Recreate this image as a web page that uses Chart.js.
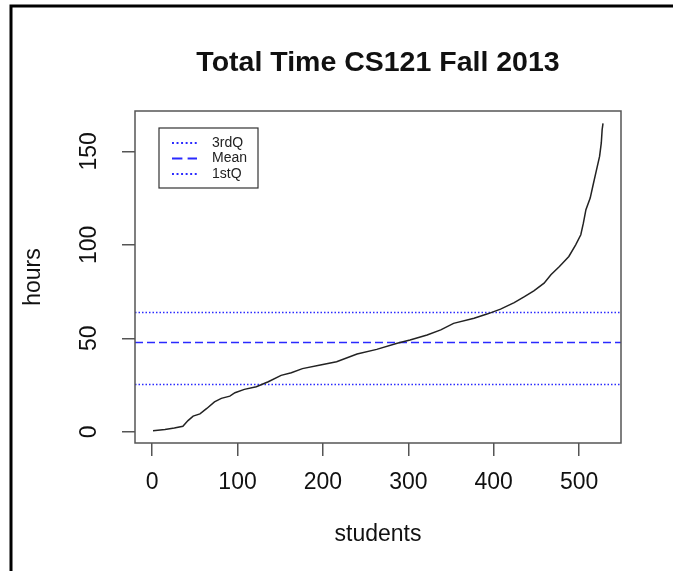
<!DOCTYPE html>
<html>
<head>
<meta charset="utf-8">
<script src="https://cdn.jsdelivr.net/npm/chart.js@4"></script>
<style>
  html, body { margin: 0; padding: 0; background: #fff; }
</style>
</head>
<body>
<canvas id="chart-1" width="673" height="571"></canvas>
<script>
const ctx1 = document.getElementById('chart-1');

// students sorted by total hours
var students = [1, 15, 26, 36, 42, 48, 56, 64, 73, 81, 91, 97, 108, 122, 136, 151, 163, 176,
    197, 216, 240, 263, 287, 302, 322, 338, 353, 377, 393, 408, 424, 436, 447, 459, 467,
    477, 488, 496, 502, 505, 508, 513, 516, 520, 524, 526, 527, 528];
var hours = [0.6, 1.2, 2, 3, 6, 8.4, 9.6, 12.5, 16, 17.9, 19.1, 20.9, 22.7, 24.1, 26.8, 30.2, 31.6, 33.8,
    35.7, 37.5, 41.6, 44.1, 47.4, 49.1, 51.8, 54.5, 58, 60.7, 63.1, 65.6, 69.1, 72.3, 75.4, 79.5, 84,
    88.4, 93.8, 100, 105.4, 111.6, 118.8, 125, 131.2, 139.3, 147.3, 154.5, 161.6, 165];

var refLabels = ['3rdQ', 'Mean', '1stQ'];
var refValues = [64.1, 47.9, 25.7];
var refDashes = [[1.5, 2], [8, 4], [1.5, 2]];

var xTicks = [0, 100, 200, 300, 400, 500];
var yTicks = [0, 50, 100, 150];

// R style axis range: data range plus 4% each side
var xLo = Math.min(...students), xHi = Math.max(...students);
var yLo = Math.min(...hours), yHi = Math.max(...hours);
var xPad = (xHi - xLo) * 0.04, yPad = (yHi - yLo) * 0.04;

var font = 'Liberation Sans, Arial, sans-serif';
var lineBlue = '#2a2aff';

const decor = {
    id: 'decor',
    beforeDraw(chart) {
        const c = chart.ctx;
        c.save();
        c.fillStyle = '#fff';
        c.fillRect(0, 0, chart.width, chart.height);
        // outer picture frame
        c.strokeStyle = '#000';
        c.lineWidth = 3;
        c.beginPath();
        c.moveTo(11, chart.height);
        c.lineTo(11, 6);
        c.lineTo(chart.width, 6);
        c.stroke();
        c.restore();
    },
    beforeDatasetsDraw(chart) {
        const c = chart.ctx, a = chart.chartArea, y = chart.scales.y;
        c.save();
        c.beginPath();
        c.rect(a.left, a.top, a.right - a.left, a.bottom - a.top);
        c.clip();
        c.strokeStyle = lineBlue;
        c.lineWidth = 1.5;
        refValues.forEach((v, i) => {
            const py = Math.round(y.getPixelForValue(v)) + 0.5;
            c.setLineDash(refDashes[i]);
            c.beginPath();
            c.moveTo(a.left, py);
            c.lineTo(a.right, py);
            c.stroke();
        });
        c.restore();
    },
    afterDraw(chart) {
        const c = chart.ctx, a = chart.chartArea;
        c.save();
        // plot box
        c.strokeStyle = '#555';
        c.lineWidth = 1.5;
        c.strokeRect(a.left, a.top, a.right - a.left, a.bottom - a.top);

        // main title
        c.fillStyle = '#111';
        c.font = 'bold 28.5px ' + font;
        c.textAlign = 'center';
        c.textBaseline = 'alphabetic';
        c.fillText('Total Time CS121 Fall 2013', (a.left + a.right) / 2, 71);

        // legend
        const lx = a.left + 24, ly = a.top + 17, lw = 99, lh = 60;
        c.strokeStyle = '#333';
        c.lineWidth = 1.2;
        c.strokeRect(lx, ly, lw, lh);
        c.font = '14px ' + font;
        c.textAlign = 'left';
        c.textBaseline = 'middle';
        refLabels.forEach((t, i) => {
            const ry = ly + 15 + i * 15.5;
            c.strokeStyle = lineBlue;
            c.lineWidth = 2;
            c.setLineDash(refDashes[i].map(d => d * 1.3));
            c.beginPath();
            c.moveTo(lx + 13, ry);
            c.lineTo(lx + 38, ry);
            c.stroke();
            c.setLineDash([]);
            c.fillStyle = '#222';
            c.fillText(t, lx + 53, ry);
        });
        c.restore();
    }
};

new Chart(ctx1, {
    type: 'line',
    data: {
        datasets: [{
            label: 'hours',
            data: students.map((s, i) => ({ x: s, y: hours[i] })),
            borderColor: '#222',
            borderWidth: 1.5,
            pointRadius: 0,
            tension: 0,
            fill: false
        }]
    },
    options: {
        responsive: false,
        animation: false,
        layout: { padding: { left: 0, top: 111, right: 52, bottom: 0 } },
        plugins: {
            legend: { display: false },
            tooltip: { enabled: false }
        },
        scales: {
            x: {
                type: 'linear',
                min: xLo - xPad,
                max: xHi + xPad,
                afterBuildTicks: s => { s.ticks = xTicks.map(v => ({ value: v })); },
                afterFit: s => { s.height = 128; },
                border: { display: false },
                grid: { drawOnChartArea: false, tickLength: 13, color: '#555', lineWidth: 1.5 },
                ticks: { padding: 13, color: '#111', maxRotation: 0, autoSkip: false,
                    font: { family: font, size: 23 } },
                title: { display: true, text: 'students', color: '#111',
                    font: { family: font, size: 23 }, padding: { top: 0, bottom: 23 } }
            },
            y: {
                type: 'linear',
                min: yLo - yPad,
                max: yHi + yPad,
                afterBuildTicks: s => { s.ticks = yTicks.map(v => ({ value: v })); },
                afterFit: s => { s.width = 135; },
                border: { display: false },
                grid: { drawOnChartArea: false, tickLength: 13, color: '#555', lineWidth: 1.5 },
                ticks: { padding: 13, color: '#111', minRotation: 90, maxRotation: 90,
                    crossAlign: 'center', autoSkip: false, font: { family: font, size: 23 } },
                title: { display: true, text: 'hours', color: '#111',
                    font: { family: font, size: 23 }, padding: { top: 20, bottom: 0 } }
            }
        }
    },
    plugins: [decor]
});
</script>
</body>
</html>
